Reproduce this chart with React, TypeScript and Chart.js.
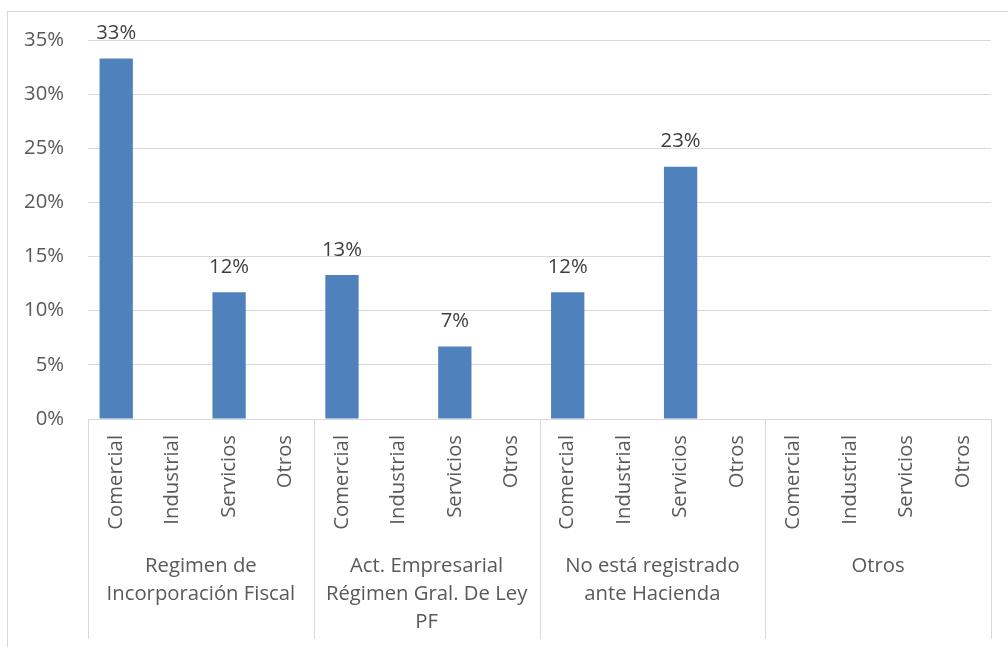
import React, { useEffect, useRef } from "react";
import { Chart, registerables } from "chart.js";

Chart.register(...registerables);

const subCategories = [
  "Comercial", "Industrial", "Servicios", "Otros",
  "Comercial", "Industrial", "Servicios", "Otros",
  "Comercial", "Industrial", "Servicios", "Otros",
  "Comercial", "Industrial", "Servicios", "Otros",
];
const groupLabels: string[][] = [
  ["Regimen de", "Incorporación Fiscal"],
  ["Act. Empresarial", "Régimen Gral. De Ley", "PF"],
  ["No está registrado", "ante Hacienda"],
  ["Otros"],
];
const groupSize = 4;
const values = [33.3, 0, 11.7, 0, 13.3, 0, 6.7, 0, 11.7, 0, 23.3, 0, 0, 0, 0, 0];
const yTicks = [0, 5, 10, 15, 20, 25, 30, 35];

const FONT = "'Open Sans', Lato, sans-serif";
const FSIZE = 20.3;
const TEXT = "#595959";
const GRID = "#d9d9d9";

const extrasPlugin = {
  id: "extras",
  beforeDraw(chart: any) {
    const ctx = chart.ctx;
    ctx.save();
    ctx.strokeStyle = GRID;
    ctx.lineWidth = 1;
    ctx.strokeRect(7.5, 11.5, 1100, 800);
    ctx.restore();
  },
  afterDraw(chart: any) {
    const ctx = chart.ctx;
    const x = chart.scales.x;
    const half = (x.getPixelForValue(1) - x.getPixelForValue(0)) / 2;
    const top = chart.chartArea.bottom;
    const bottom = 639;
    ctx.save();
    ctx.strokeStyle = GRID;
    ctx.lineWidth = 1;
    for (let g = 0; g <= groupLabels.length; g++) {
      const idx = g * groupSize;
      const px = idx < subCategories.length
        ? x.getPixelForValue(idx) - half
        : x.getPixelForValue(subCategories.length - 1) + half;
      const xx = Math.round(px) + 0.5;
      ctx.beginPath();
      ctx.moveTo(xx, top);
      ctx.lineTo(xx, bottom);
      ctx.stroke();
    }
    ctx.fillStyle = TEXT;
    ctx.font = `${FSIZE}px ${FONT}`;
    ctx.textAlign = "center";
    ctx.textBaseline = "middle";
    groupLabels.forEach((lines, g) => {
      const a = x.getPixelForValue(g * groupSize) - half;
      const b = x.getPixelForValue(g * groupSize + groupSize - 1) + half;
      const cx = (a + b) / 2;
      lines.forEach((t, i) => ctx.fillText(t, cx, 566 + i * 28.3));
    });
    // data labels
    const meta = chart.getDatasetMeta(0);
    ctx.fillStyle = "#404040";
    meta.data.forEach((bar: any, i: number) => {
      const v = values[i];
      if (v > 0) ctx.fillText(Math.round(v) + "%", bar.x, bar.y - 25);
    });
    ctx.restore();
  },
};

export default function App() {
  const ref = useRef<HTMLCanvasElement>(null);
  useEffect(() => {
    if (!ref.current) return;
    const chart = new Chart(ref.current, {
      type: "bar",
      data: {
        labels: subCategories,
        datasets: [
          {
            data: values,
            backgroundColor: "#4F81BD",
            barPercentage: 0.59,
            categoryPercentage: 1,
          },
        ],
      },
      options: {
        animation: false,
        responsive: true,
        maintainAspectRatio: false,
        layout: { padding: { top: 40, right: 17, left: 0, bottom: 0 } },
        plugins: { legend: { display: false }, tooltip: { enabled: false } },
        scales: {
          x: {
            grid: { display: false },
            border: { display: true, color: GRID, width: 1 },
            ticks: {
              color: TEXT,
              font: { family: FONT, size: FSIZE },
              maxRotation: 90,
              minRotation: 90,
              autoSkip: false,
              padding: 8,
            },
            afterFit(scale: any) {
              scale.height = 647 - 419;
            },
          },
          y: {
            min: 0,
            max: 35,
            afterBuildTicks(scale: any) {
              scale.ticks = yTicks.map((v) => ({ value: v }));
            },
            grid: { color: GRID, drawTicks: false },
            border: { display: false },
            ticks: {
              color: TEXT,
              font: { family: FONT, size: FSIZE },
              padding: 24,
              callback: (v: any) => v + "%",
            },
            afterFit(scale: any) {
              scale.width = 88;
            },
          },
        },
      },
      plugins: [extrasPlugin],
    });
    return () => chart.destroy();
  }, []);
  return (
    <div style={{ position: "fixed", left: 0, top: 0, width: 1008, height: 647, background: "#fff" }}>
      <canvas ref={ref} />
    </div>
  );
}
